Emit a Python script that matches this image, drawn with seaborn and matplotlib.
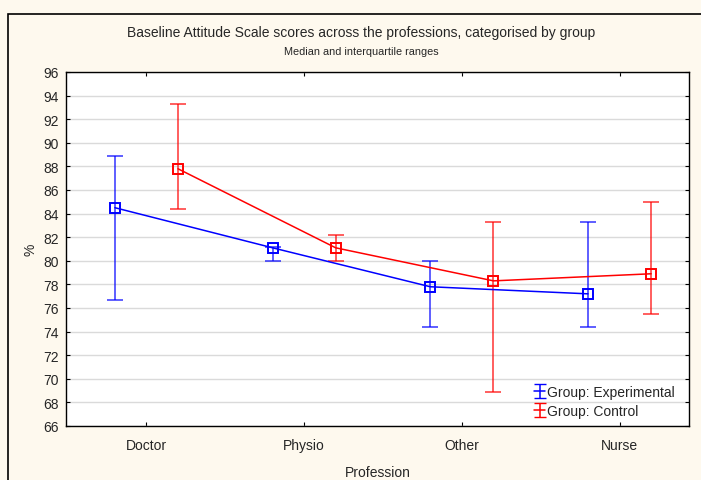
import numpy as np
import pandas as pd
import matplotlib
matplotlib.use("Agg")
import matplotlib.pyplot as plt
import seaborn as sns
from matplotlib.patches import Rectangle

professions = ["Doctor", "Physio", "Other", "Nurse"]
groups = ["Group: Experimental", "Group: Control"]

exp_median = [84.5, 81.1, 77.8, 77.2]
exp_low = [76.7, 80.0, 74.4, 74.4]
exp_high = [88.9, 81.2, 80.0, 83.3]

ctl_median = [87.8, 81.1, 78.3, 78.9]
ctl_low = [84.4, 80.0, 68.9, 75.5]
ctl_high = [93.3, 82.2, 83.3, 85.0]

yticks = list(range(66, 97, 2))

sns.set_theme(style="white")
plt.rcParams['font.family'] = ['Liberation Sans', 'DejaVu Sans']

bg = '#FEF9EE'
fig = plt.figure(figsize=(7.01, 4.81), dpi=100, facecolor=bg)
ax = fig.add_axes([66/701, 1-427/481, (689-66)/701, (427-73)/481])
ax.set_facecolor('white')

# frame around figure
fig.patches.append(Rectangle((8/701, -0.1), 1.5, 1.1 - 15/481, transform=fig.transFigure,
                             fill=False, edgecolor='black', linewidth=1.2))

rows = []
for i, p in enumerate(professions):
    rows.append(dict(pos=i - 0.2, median=exp_median[i], low=exp_low[i], high=exp_high[i], group=groups[0]))
    rows.append(dict(pos=i + 0.2, median=ctl_median[i], low=ctl_low[i], high=ctl_high[i], group=groups[1]))
df = pd.DataFrame(rows)

palette = {groups[0]: '#0000FF', groups[1]: '#FF0000'}

for g in groups:
    sub = df[df.group == g]
    ax.errorbar(sub['pos'], sub['median'],
                yerr=[sub['median'] - sub['low'], sub['high'] - sub['median']],
                fmt='none', ecolor=palette[g], elinewidth=1.1, capsize=6, capthick=1.1,
                alpha=0.8, zorder=2)
    sns.lineplot(data=sub, x='pos', y='median', color=palette[g], marker='s',
                 markersize=7, markerfacecolor='none', markeredgecolor=palette[g],
                 markeredgewidth=1.4, linewidth=1.1, legend=False, ax=ax, zorder=3)

# legend handles
handles = []
for g in groups:
    h = ax.errorbar([np.nan], [np.nan], yerr=[1], color=palette[g], capsize=4, linewidth=1.1,
                    elinewidth=1.1, label=g)
    handles.append(h)
leg = ax.legend(handles=handles, labels=groups, loc='lower right', bbox_to_anchor=(0.992, -0.005),
                frameon=False, fontsize=10, handlelength=0.8, handletextpad=0.1,
                labelspacing=0.35, borderaxespad=0.3)

ax.set_xlim(-0.51, 3.44)
ax.set_ylim(66, 96)
ax.set_yticks(yticks)
ax.set_yticklabels([str(t) for t in yticks], fontsize=10)
ax.set_xticks(range(len(professions)))
ax.set_xticklabels(professions, fontsize=10)
ax.yaxis.grid(True, color='#DADADA', linewidth=1.0)
ax.set_axisbelow(True)
ax.tick_params(axis='x', pad=9)
ax.tick_params(axis='y', pad=5)
ax.tick_params(axis='both', direction='in', length=3, width=0.8, color='black',
               top=True, right=True, left=True, bottom=True,
               labeltop=False, labelright=False)
for s in ax.spines.values():
    s.set_color('black')
    s.set_linewidth(1.0)

ax.set_xlabel('Profession', fontsize=10, labelpad=9)
ax.set_ylabel('%', fontsize=10, labelpad=4)

fig.text(361/701, 1-33/481, 'Baseline Attitude Scale scores across the professions, categorised by group',
         ha='center', va='center', fontsize=10)
fig.text(361/701, 1-52/481, 'Median and interquartile ranges', ha='center', va='center', fontsize=7.8)

fig.savefig('out.png', dpi=100, facecolor=bg)
